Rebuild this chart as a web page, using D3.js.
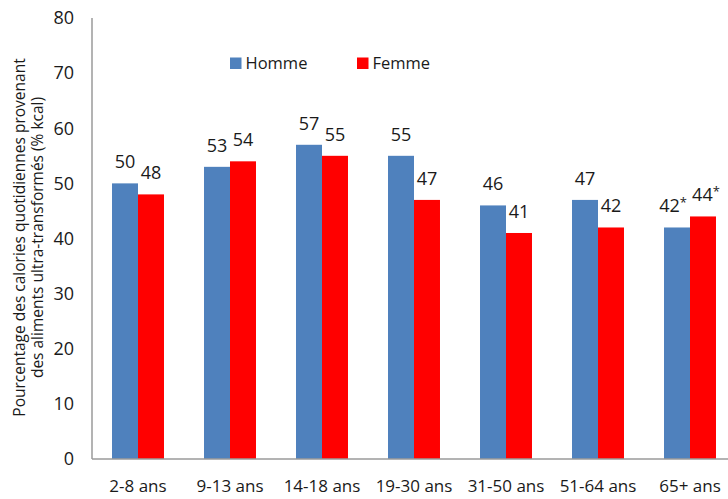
<!DOCTYPE html>
<html><head><meta charset="utf-8">
<script src="https://cdn.jsdelivr.net/npm/d3@7"></script>
<style>body{margin:0;background:#fff}svg{display:block}text{font-family:"Open Sans",sans-serif;fill:#1a1a1a}</style>
</head><body><svg id="c" width="728" height="499"></svg>
<script>
const categories = ["2-8 ans","9-13 ans","14-18 ans","19-30 ans","31-50 ans","51-64 ans","65+ ans"];
const hommeValues = [50,53,57,55,46,47,42];
const femmeValues = [48,54,55,47,41,42,44];
const hommeLabels = ["50","53","57","55","46","47","42*"];
const femmeLabels = ["48","54","55","47","41","42","44*"];
const seriesNames = ["Homme","Femme"];
const yTicks = [0,10,20,30,40,50,60,70,80];
const colors = {Homme:"#4F81BD", Femme:"#FF0000"};

const svg = d3.select("#c");
const mLeft = 92, mRight = 736, mTop = 18, mBottom = 459;
const x = d3.scaleBand().domain(categories).range([mLeft, mRight]).paddingInner(0.435).paddingOuter(0.2175);
const xs = d3.scaleBand().domain(seriesNames).range([0, x.bandwidth()]);
const y = d3.scaleLinear().domain([0,80]).range([mBottom, mTop]);

const data = categories.map((c,i)=>({cat:c, vals:[
  {s:"Homme", v:hommeValues[i], l:hommeLabels[i]},
  {s:"Femme", v:femmeValues[i], l:femmeLabels[i]}]}));

const g = svg.selectAll("g.grp").data(data).join("g").attr("class","grp").attr("transform", d=>`translate(${x(d.cat)},0)`);
g.selectAll("rect").data(d=>d.vals).join("rect")
  .attr("x", d=>xs(d.s)).attr("width", xs.bandwidth())
  .attr("y", d=>y(d.v)).attr("height", d=>y(0)-y(d.v))
  .attr("fill", d=>colors[d.s]);
const vt = g.selectAll("text.val").data(d=>d.vals).join("text").attr("class","val")
  .attr("x", d=>xs(d.s)+xs.bandwidth()/2 + (d.l.includes("*")?(d.s==="Homme"?-4:3):0)).attr("y", d=>y(d.v)-15)
  .attr("text-anchor","middle").style("font-size","18px");
vt.append("tspan").text(d=>d.l.replace("*",""));
vt.filter(d=>d.l.includes("*")).append("tspan").attr("dy",-5).style("font-size","13px").text("*");

// axes
svg.append("line").attr("x1",mLeft).attr("x2",mLeft).attr("y1",mTop).attr("y2",mBottom).attr("stroke","#9a9a9a").attr("stroke-width",1.5);
svg.append("line").attr("x1",mLeft).attr("x2",728).attr("y1",mBottom).attr("y2",mBottom).attr("stroke","#9a9a9a").attr("stroke-width",1.5);

const yAxis = svg.append("g").attr("transform",`translate(${mLeft},0)`)
  .call(d3.axisLeft(y).tickValues(yTicks).tickSize(0).tickPadding(18));
yAxis.select(".domain").remove();
yAxis.selectAll("text").style("font-size","18px").style("font-family","'Open Sans',sans-serif").attr("fill","#1a1a1a");

const xAxis = svg.append("g").attr("transform",`translate(0,${mBottom})`)
  .call(d3.axisBottom(x).tickSize(0).tickPadding(21));
xAxis.select(".domain").remove();
xAxis.selectAll("text").style("font-size","17px").style("font-family","'Open Sans',sans-serif").attr("fill","#1a1a1a");

// y title
const yt = svg.append("text").attr("transform",`translate(25,237.5) rotate(-90)`).attr("text-anchor","middle").style("font-size","15.5px");
yt.append("tspan").attr("x",0).attr("dy",0).text("Pourcentage des calories quotidiennes provenant");
yt.append("tspan").attr("x",0).attr("dy","18px").text("des aliments ultra-transformés (% kcal)");

// legend
const legX = [230, 357];
const lg = svg.selectAll("g.leg").data(seriesNames).join("g").attr("class","leg").attr("transform",(d,i)=>`translate(${legX[i]},57.5)`);
lg.append("rect").attr("width",11.5).attr("height",11.5).attr("fill",d=>colors[d]);
lg.append("text").attr("x",15.5).attr("y",11).style("font-size","16.5px").text(d=>d);
</script></body></html>
